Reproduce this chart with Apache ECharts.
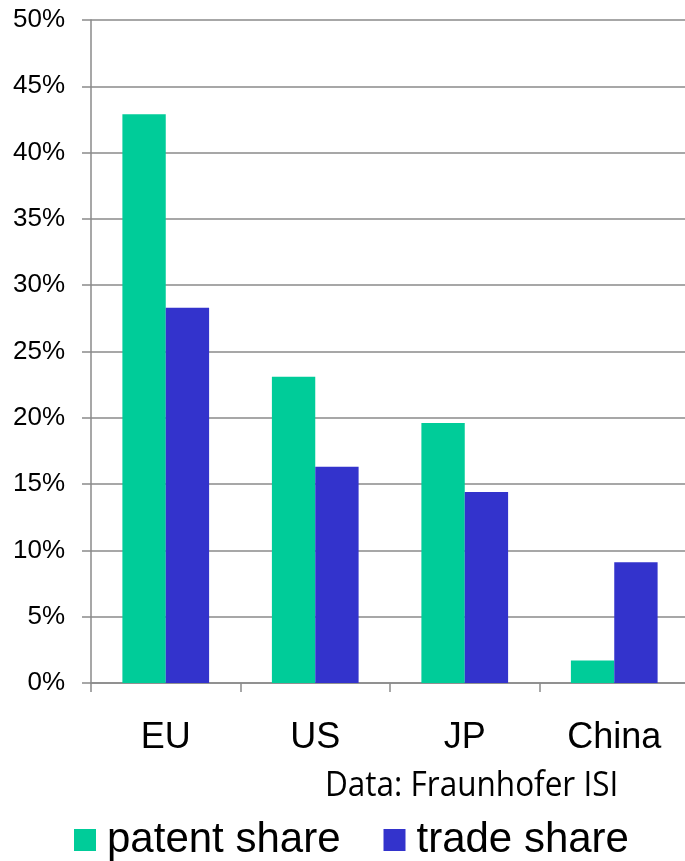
<!DOCTYPE html>
<html>
<head>
<meta charset="utf-8">
<script src="https://cdn.jsdelivr.net/npm/echarts@6/dist/echarts.min.js"></script>
<style>
html,body{margin:0;padding:0;background:#fff;}
#chart{width:685px;height:861px;}
</style>
</head>
<body>
<div id="chart"></div>
<script>
const categories = ['EU', 'US', 'JP', 'China'];
const patentShare = [42.9, 23.1, 19.6, 1.7];
const tradeShare = [28.3, 16.3, 14.4, 9.1];
const seriesNames = ['patent share', 'trade share'];
const sourceNote = 'Data: Fraunhofer ISI';

const chart = echarts.init(document.getElementById('chart'), null, {renderer: 'canvas'});
const gray = '#8a8a8a';
chart.setOption({
  animation: false,
  backgroundColor: '#fff',
  grid: {left: 91, top: 20, width: 598, height: 663, containLabel: false, outerBoundsMode: 'none'},
  legend: {
    data: seriesNames,
    left: 74,
    top: 819,
    padding: 0,
    icon: 'rect',
    itemWidth: 22,
    itemHeight: 22,
    itemGap: 43,
    textStyle: {fontFamily: 'Liberation Sans, Arial, sans-serif', fontSize: 42, color: '#000', padding: [0, 0, 0, 6]}
  },
  xAxis: {
    type: 'category',
    data: categories,
    axisLine: {lineStyle: {color: gray, width: 1.5}},
    axisTick: {show: true, length: 9, lineStyle: {color: gray, width: 1.5}},
    axisLabel: {fontFamily: 'Liberation Sans, Arial, sans-serif', fontSize: 36, color: '#000', margin: 37}
  },
  yAxis: {
    type: 'value',
    min: 0, max: 50, interval: 5,
    axisLine: {show: true, lineStyle: {color: gray, width: 1.5}},
    axisTick: {show: true, length: 9, lineStyle: {color: gray, width: 1.5}},
    splitLine: {lineStyle: {color: gray, width: 1.5}},
    axisLabel: {formatter: '{value}%', fontFamily: 'Liberation Sans, Arial, sans-serif', fontSize: 26, color: '#000', margin: 26}
  },
  series: [
    {name: seriesNames[0], type: 'bar', data: patentShare, itemStyle: {color: '#00CC99'}, barGap: '0%', barCategoryGap: '42%'},
    {name: seriesNames[1], type: 'bar', data: tradeShare, itemStyle: {color: '#3333CC'}}
  ],
  graphic: [{
    type: 'text', left: 325, top: 769, scaleX: 0.9,
    style: {text: sourceNote, fontFamily: 'Open Sans, Noto Sans, sans-serif', fontSize: 35, fill: '#000'}
  }]
});
</script>
</body>
</html>
